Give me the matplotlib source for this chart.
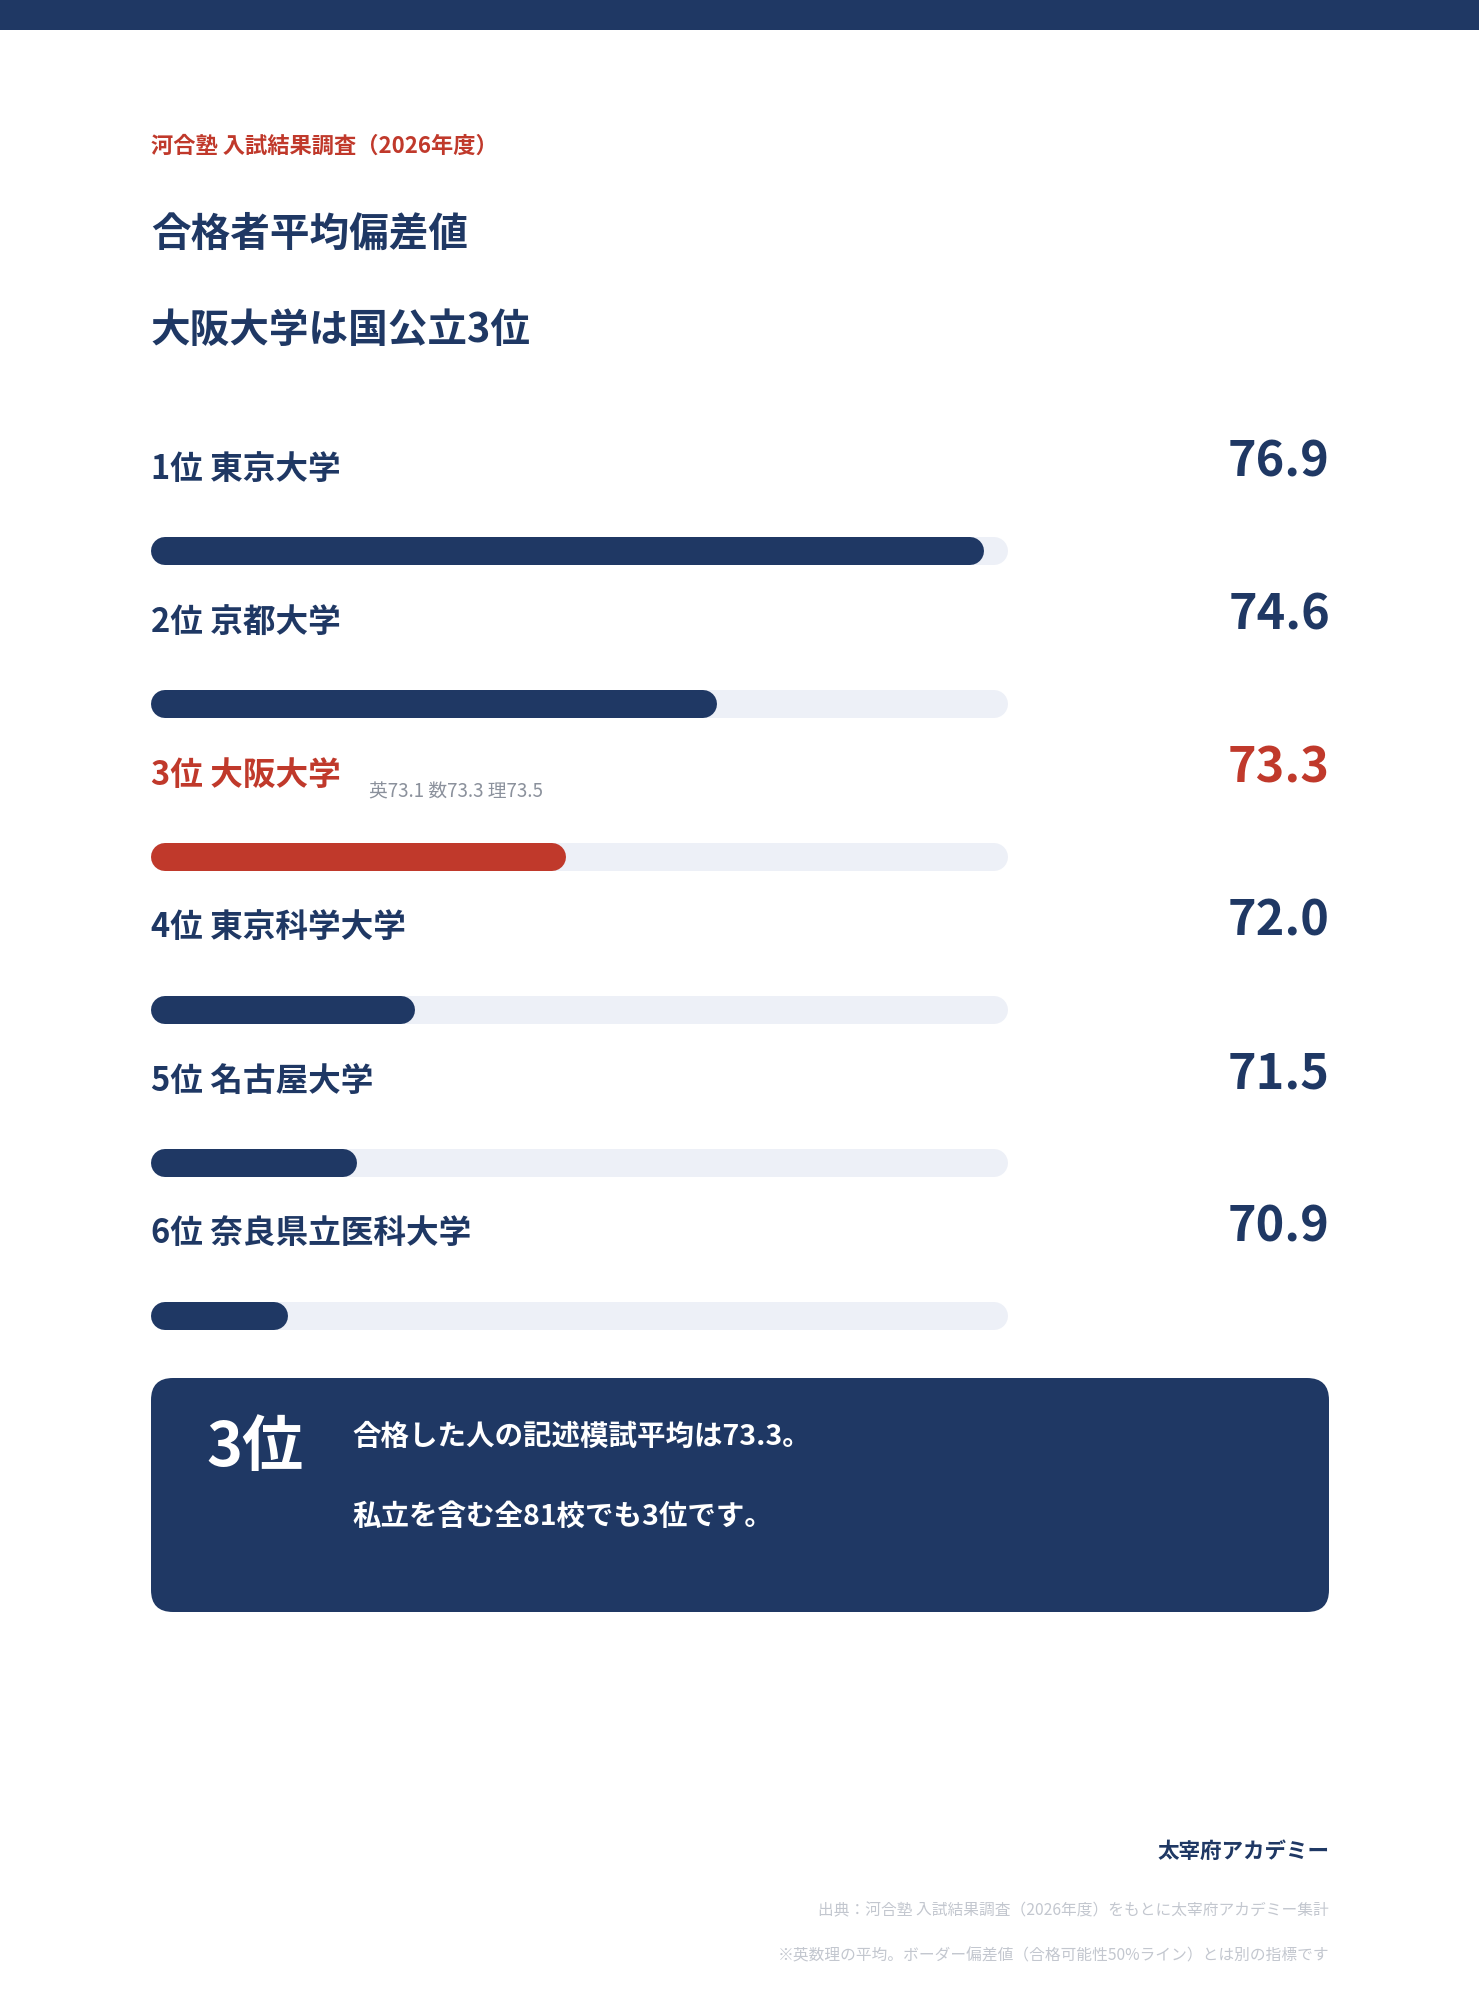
import matplotlib
matplotlib.use('Agg')
import matplotlib.pyplot as plt
from matplotlib.patches import FancyBboxPatch, Rectangle

plt.rcParams['font.family'] = ['Noto Sans CJK JP', 'DejaVu Sans']

# ---------------- data ----------------
ranks = ['1位', '2位', '3位', '4位', '5位', '6位']
universities = ['東京大学', '京都大学', '大阪大学', '東京科学大学', '名古屋大学', '奈良県立医科大学']
scores = [76.9, 74.6, 73.3, 72.0, 71.5, 70.9]
highlight = '大阪大学'
osaka_subjects = ['英', '数', '理']
osaka_subject_scores = [73.1, 73.3, 73.5]
scale_min, scale_max = 69.72, 77.11

eyebrow = '河合塾 入試結果調査（2026年度）'
title_lines = ['合格者平均偏差値', '大阪大学は国公立3位']
box_big = '3位'
box_lines = ['合格した人の記述模試平均は73.3。', '私立を含む全81校でも3位です。']
brand = '太宰府アカデミー'
source_note = '出典：河合塾 入試結果調査（2026年度）をもとに太宰府アカデミー集計'
foot_note = '※英数理の平均。ボーダー偏差値（合格可能性50%ライン）とは別の指標です'

# ---------------- style ----------------
NAVY = '#1f3864'
RED = '#c0392b'
TRACK = '#edf0f7'
SUBGRAY = '#8b919c'
FOOTGRAY = '#c3c7cf'

W, H = 1479, 2000
fig = plt.figure(figsize=(W / 100, H / 100), dpi=100)
fig.patch.set_facecolor('white')

# overlay axes in pixel coordinates
ov = fig.add_axes([0, 0, 1, 1], zorder=2)
ov.set_xlim(0, W)
ov.set_ylim(H, 0)
ov.axis('off')
ov.patch.set_alpha(0)

# bar axes
LEFT, RIGHT = 151, 1008
ROW0, PITCH = 551, 153
n = len(scores)
top = ROW0 - PITCH / 2
bottom = ROW0 + PITCH * (n - 1) + PITCH / 2
ax = fig.add_axes([LEFT / W, 1 - bottom / H, (RIGHT - LEFT) / W, (bottom - top) / H], zorder=1)
ax.set_xlim(scale_min, scale_max)
ax.set_ylim(n - 0.5, -0.5)
ax.axis('off')
ax.patch.set_alpha(0)

BAR_PX = 28
lw = BAR_PX * 72 / 100
cap = (scale_max - scale_min) / (RIGHT - LEFT) * BAR_PX / 2

VAL_RIGHT = 1330

for i, (rk, uni, v) in enumerate(zip(ranks, universities, scores)):
    col = RED if uni == highlight else NAVY
    ax.plot([scale_min + cap, scale_max - cap], [i, i], color=TRACK, lw=lw,
            solid_capstyle='round', zorder=1)
    ax.plot([scale_min + cap, v - cap], [i, i], color=col, lw=lw,
            solid_capstyle='round', zorder=2)
    by = ROW0 + PITCH * i
    t = ov.text(LEFT, by - 82, f'{rk} {uni}', fontsize=23.5,
                fontweight='bold', color=col, ha='left', va='center')
    ov.text(VAL_RIGHT, by - 89, f'{v:.1f}', fontsize=35, fontweight='bold',
            color=col, ha='right', va='center')
    if uni == highlight:
        fig.canvas.draw()
        ext = t.get_window_extent()
        sub = ' '.join(f'{s}{sv:.1f}' for s, sv in zip(osaka_subjects, osaka_subject_scores))
        ov.text(ext.x1 + 28, by - 65, sub, fontsize=13.5, color=SUBGRAY,
                ha='left', va='center')

# top bar
ov.add_patch(Rectangle((0, 0), W, 30, facecolor=NAVY, edgecolor='none'))

# header texts
ov.text(LEFT, 146, eyebrow, fontsize=16, fontweight='bold', color=RED, ha='left', va='center')
ov.text(LEFT, 234, title_lines[0], fontsize=28.5, fontweight='bold', color=NAVY, ha='left', va='center')
ov.text(LEFT, 331, title_lines[1], fontsize=28.5, fontweight='bold', color=NAVY, ha='left', va='center')

# summary box
ov.add_patch(FancyBboxPatch((151, 1378), 1178, 234,
                            boxstyle='round,pad=0,rounding_size=22',
                            facecolor=NAVY, edgecolor='none'))
ov.text(206, 1448, box_big, fontsize=44, fontweight='bold', color='white', ha='left', va='center')
ov.text(352, 1437, box_lines[0], fontsize=20.5, fontweight='bold', color='white', ha='left', va='center')
ov.text(352, 1517, box_lines[1], fontsize=20.5, fontweight='bold', color='white', ha='left', va='center')

# footer
ov.text(1329, 1851, brand, fontsize=15.5, fontweight='bold', color=NAVY, ha='right', va='center')
ov.text(1329, 1911, source_note, fontsize=11.3, color=FOOTGRAY, ha='right', va='center')
ov.text(1329, 1956, foot_note, fontsize=11.3, color=FOOTGRAY, ha='right', va='center')

fig.savefig('out.png', dpi=100, facecolor='white')
